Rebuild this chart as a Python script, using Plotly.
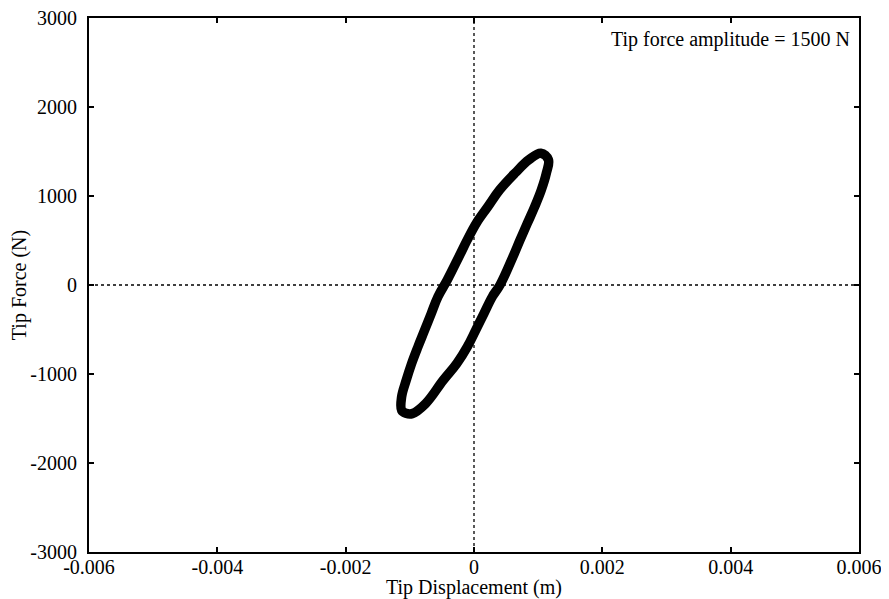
import plotly.graph_objects as go

# Hysteresis loop (displacement in mm -> m, force in N)
disp_mm = [0.036, -0.105, -0.234, -0.417, -0.562, -0.666, -0.769, -0.874, -0.972,
           -1.056, -1.128, -1.128, -1.061, -0.963, -0.754, -0.480, -0.268, -0.105,
           0.027, 0.156, 0.285, 0.405, 0.608, 0.718, 0.832, 0.947, 1.050, 1.128,
           1.159, 1.041, 0.858, 0.640, 0.401, 0.218, 0.036]
force = [695, 507, 319, 56, -132, -319, -507, -695, -882,
         -1070, -1258, -1408, -1441, -1445, -1332, -1070, -882, -695,
         -507, -319, -132, 0, 319, 507, 695, 882, 1070, 1258,
         1408, 1481, 1408, 1258, 1070, 882, 695]
disp = [v / 1000.0 for v in disp_mm]

x_ticks = [-0.006, -0.004, -0.002, 0, 0.002, 0.004, 0.006]
x_labels = ["-0.006", "-0.004", "-0.002", "0", "0.002", "0.004", "0.006"]
y_ticks = [-3000, -2000, -1000, 0, 1000, 2000, 3000]
y_labels = ["-3000", "-2000", "-1000", "0", "1000", "2000", "3000"]

FONT = "Liberation Serif, Times New Roman, serif"

fig = go.Figure()
fig.add_trace(go.Scatter(
    x=disp, y=force, mode="lines",
    line=dict(color="black", width=9.5, shape="spline", smoothing=1.1),
    showlegend=False, hoverinfo="skip",
))

# dotted zero reference lines
fig.add_shape(type="line", xref="paper", yref="y", x0=0, x1=1, y0=0, y1=0,
              line=dict(color="black", width=1.3, dash="dot"), layer="below")
fig.add_shape(type="line", xref="x", yref="paper", x0=0, x1=0, y0=0, y1=1,
              line=dict(color="black", width=1.3, dash="dot"), layer="below")

axis_common = dict(
    showgrid=False, zeroline=False, showline=True, linecolor="black",
    linewidth=2, mirror="ticks", ticks="inside", ticklen=5, tickwidth=1.5,
    tickcolor="black", tickfont=dict(family=FONT, size=20, color="black"),
    automargin=False, ticklabeloverflow="allow",
)

fig.update_xaxes(range=[-0.006, 0.006], tickvals=x_ticks, ticktext=x_labels,
                 ticklabelstandoff=-4,
                 title=dict(text="Tip Displacement (m)", standoff=3,
                            font=dict(family=FONT, size=20, color="black")),
                 **axis_common)
fig.update_yaxes(range=[-3000, 3000], tickvals=y_ticks, ticktext=y_labels,
                 ticklabelstandoff=6,
                 title=dict(text="Tip Force (N)", standoff=0,
                            font=dict(family=FONT, size=20, color="black")),
                 **axis_common)

fig.add_annotation(text="Tip force amplitude = 1500 N", xref="paper", yref="paper",
                   x=0.991, y=0.96, xanchor="right", yanchor="middle",
                   showarrow=False, font=dict(family=FONT, size=20, color="black"))

# page body has an 8 px margin, so the figure is sized to fit the window
fig.update_layout(
    width=881, height=591,
    margin=dict(l=81, r=30, t=10, b=47, autoexpand=False),
    paper_bgcolor="white", plot_bgcolor="white",
)

fig.write_html("out.html")
